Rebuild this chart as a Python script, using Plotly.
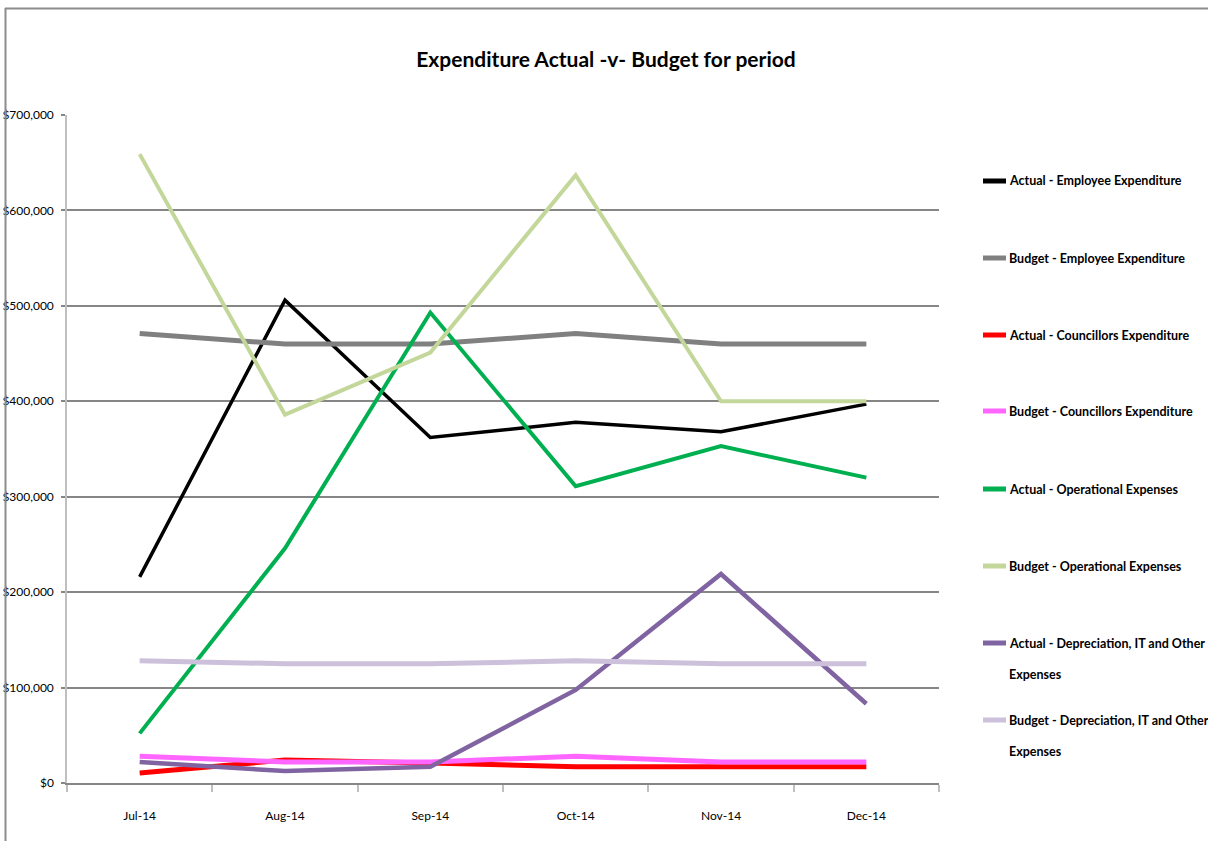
import plotly.graph_objects as go

# Monthly expenditure, actual vs budget (AUD)
months = ["Jul-14", "Aug-14", "Sep-14", "Oct-14", "Nov-14", "Dec-14"]

actual_employee = [216000, 506000, 362000, 378000, 368000, 397000]
budget_employee = [471000, 460000, 460000, 471000, 460000, 460000]
actual_councillors = [10500, 24000, 21000, 17000, 17000, 17000]
budget_councillors = [28000, 22000, 22000, 28000, 22000, 22000]
actual_operational = [52000, 246000, 493000, 311000, 353000, 320000]
budget_operational = [659000, 386000, 451000, 637000, 400000, 400000]
actual_depreciation = [22000, 12500, 17000, 97500, 219000, 83000]
budget_depreciation = [128000, 125000, 125000, 128000, 125000, 125000]

series_names = [
    "Actual - Employee Expenditure",
    "Budget - Employee Expenditure",
    "Actual - Councillors Expenditure",
    "Budget - Councillors Expenditure",
    "Actual - Operational Expenses",
    "Budget - Operational Expenses",
    "Actual - Depreciation, IT and Other<br>Expenses",
    "Budget - Depreciation, IT and Other<br>Expenses",
]
series_values = [
    actual_employee, budget_employee, actual_councillors, budget_councillors,
    actual_operational, budget_operational, actual_depreciation, budget_depreciation,
]
series_colors = ["#000000", "#808080", "#FF0000", "#FF66FF",
                 "#00B050", "#C4D79B", "#8064A2", "#CCC0DA"]
series_widths = [3.5, 5, 5, 5, 4, 4, 4.5, 5]

FONT = "Lato, Roboto, sans-serif"

W, H = 1208, 841
L, R, T, B = 67, 939, 115, 783  # plot area in pixels


def px(x):
    return (x - L) / (R - L)


def py(y):
    return (B - y) / (B - T)


fig = go.Figure()
for name, vals, col, w in zip(series_names, series_values, series_colors, series_widths):
    fig.add_trace(go.Scatter(
        x=months, y=vals, mode="lines", name=name.replace("<br>", " "),
        line=dict(color=col, width=w), showlegend=False,
    ))

shapes = []
annotations = []

# Legend drawn at the right, evenly spaced rows; wrapped lines 31px apart
row_y = [181, 258, 335, 411, 489, 566, 643, 720]
for name, col, y in zip(series_names, series_colors, row_y):
    shapes.append(dict(type="line", xref="paper", yref="paper",
                       x0=px(983), x1=px(1006), y0=py(y), y1=py(y),
                       line=dict(color=col, width=5)))
    for i, line in enumerate(name.split("<br>")):
        annotations.append(dict(xref="paper", yref="paper", x=px(1007),
                                y=py(y + 31 * i), xanchor="left", yanchor="middle",
                                showarrow=False, align="left",
                                text="<b>" + line + "</b>",
                                font=dict(family=FONT, size=12.5, color="#000000")))

# Chart frame (top and left edges)
shapes.append(dict(type="line", xref="paper", yref="paper",
                   x0=px(5), x1=px(1208), y0=py(8.5), y1=py(8.5),
                   line=dict(color="#8C8C8C", width=2)))
shapes.append(dict(type="line", xref="paper", yref="paper",
                   x0=px(5.5), x1=px(5.5), y0=py(8), y1=py(841),
                   line=dict(color="#8C8C8C", width=2)))

fig.update_layout(
    width=W, height=H,
    margin=dict(l=L, r=W - R, t=T, b=H - B),
    paper_bgcolor="white", plot_bgcolor="white",
    title=dict(text="<b>Expenditure Actual -v- Budget for period</b>",
               x=606 / W, xanchor="center", y=1 - 60 / H, yanchor="middle",
               font=dict(family=FONT, size=21, color="#000000")),
    font=dict(family=FONT, size=12, color="#000000"),
    shapes=shapes, annotations=annotations,
    xaxis=dict(type="category", range=[-0.5, 5.5], tickson="boundaries",
               ticks="outside", ticklen=7, tickcolor="#BFBFBF", tickwidth=1.5,
               showline=True, linecolor="#868686", linewidth=2,
               showgrid=False, ticklabelstandoff=21, automargin=False,
               tickfont=dict(family=FONT, size=12)),
    yaxis=dict(range=[0, 700000], dtick=100000, tickprefix="$", tickformat=",",
               ticks="outside", ticklen=4, tickcolor="#868686", tickwidth=1.5,
               showline=True, linecolor="#BFBFBF", linewidth=1.5,
               showgrid=True, gridcolor="#868686", gridwidth=1.5,
               zeroline=False, automargin=False, ticklabelstandoff=5,
               tickfont=dict(family=FONT, size=12)),
)

fig.write_html("out.html")
